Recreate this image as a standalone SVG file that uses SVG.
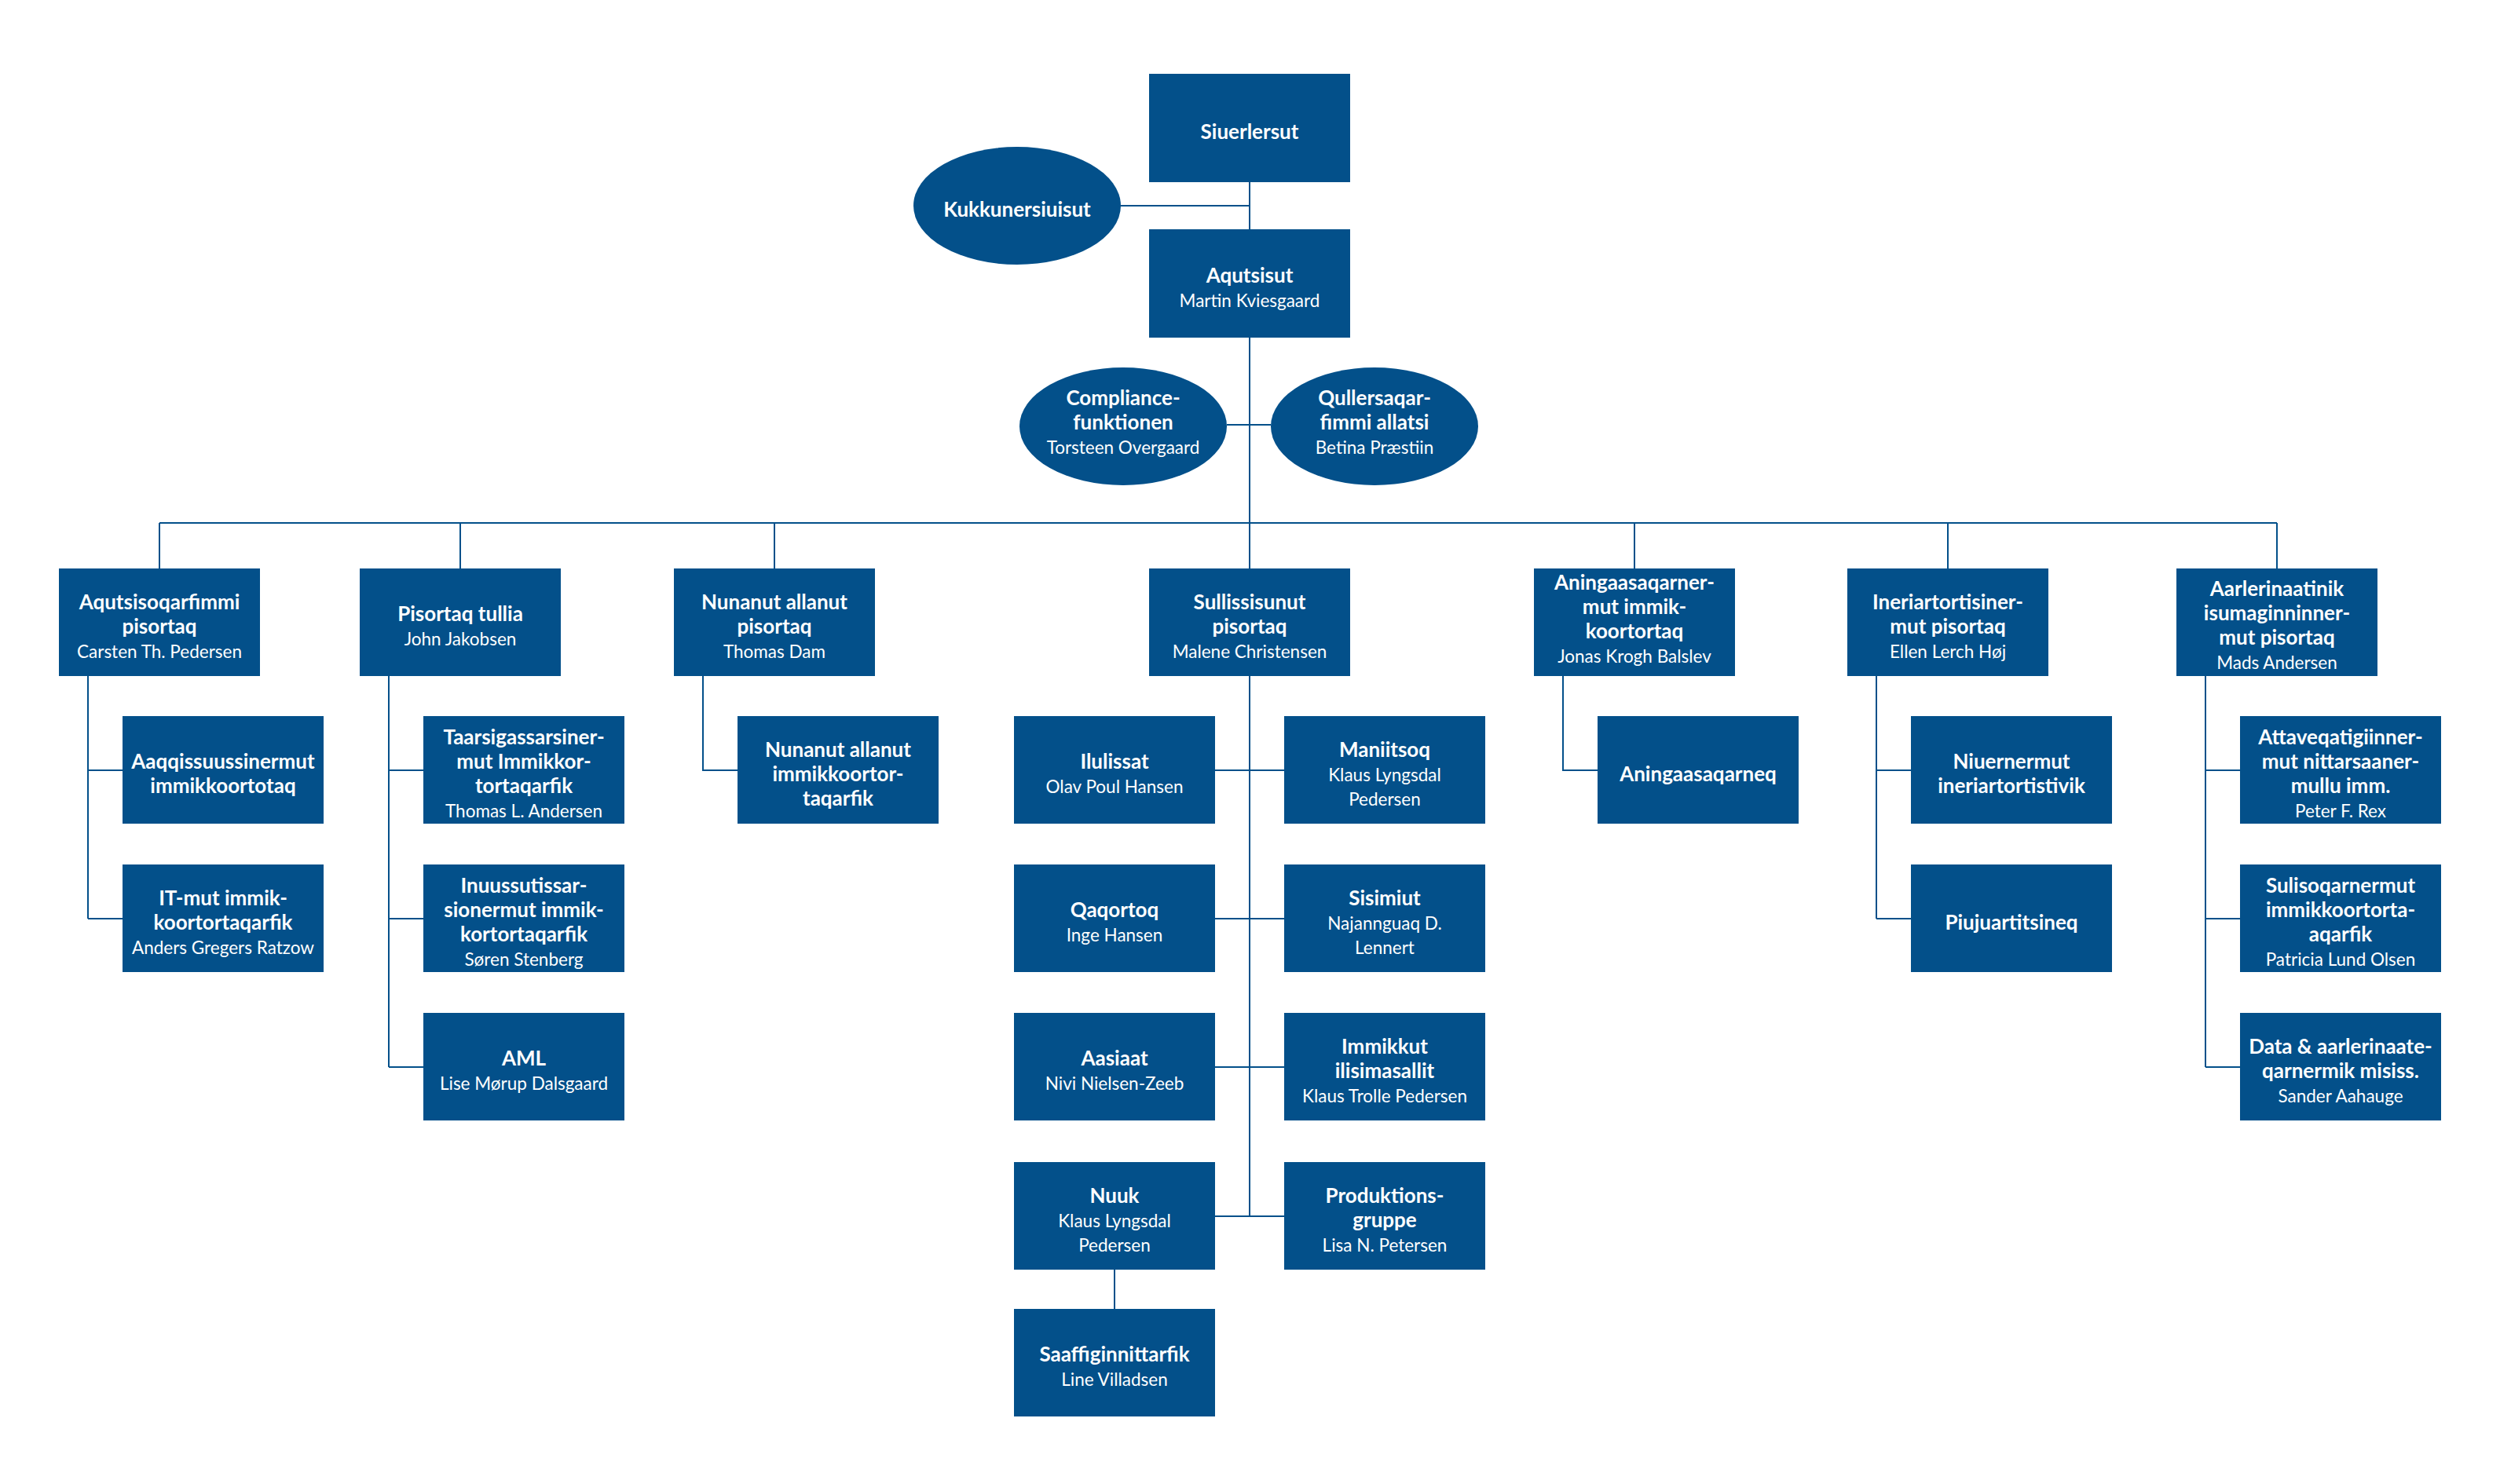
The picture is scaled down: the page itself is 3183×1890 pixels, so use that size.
<svg xmlns="http://www.w3.org/2000/svg" width="3183" height="1890" viewBox="0 0 3183 1890">
<style>
.b{fill:#03508a}
.c{fill:none;stroke:#03508a;stroke-width:2}
text{font-family:Lato,"Liberation Sans",sans-serif;font-size:26px;fill:#ffffff;text-anchor:middle}
.t{font-weight:700;font-size:26px}
.n{font-weight:400;font-size:22.5px}
</style>
<rect width="3183" height="1890" fill="#ffffff"/>
<g id="connectors">
<path class="c" d="M1591,232V292M1427,262H1591M1591,430V724M1562,541H1618M203,666H2899"/>
<path class="c" d="M203,666V724M586,666V724M986,666V724M2081,666V724M2480,666V724M2899,666V724"/>
<path class="c" d="M112,861V1170M112,981H156M112,1170H156"/>
<path class="c" d="M495,861V1359M495,981H539M495,1170H539M495,1359H539"/>
<path class="c" d="M895,861V981H939"/>
<path class="c" d="M1990,861V981H2034"/>
<path class="c" d="M2389,861V1170M2389,981H2433M2389,1170H2433"/>
<path class="c" d="M2808,861V1359M2808,981H2852M2808,1170H2852M2808,1359H2852"/>
<path class="c" d="M1591,861V1549M1547,981H1635M1547,1170H1635M1547,1359H1635M1547,1549H1635M1419,1617V1667"/>
</g>
<g id="siuerlersut"><rect class="b" x="1463" y="94" width="256" height="138"/><text x="1591" y="177" class="t">Siuerlersut</text></g>
<g id="kukkunersiuisut"><ellipse class="b" cx="1295" cy="262" rx="132" ry="75"/><text x="1295" y="276" class="t">Kukkunersiuisut</text></g>
<g id="aqutsisut"><rect class="b" x="1463" y="292" width="256" height="138"/><text x="1591" y="359.5"><tspan class="t">Aqutsisut</tspan><tspan class="n" x="1591" dy="31">Martin Kviesgaard</tspan></text></g>
<g id="compliance"><ellipse class="b" cx="1430" cy="543" rx="132" ry="75"/><text x="1430" y="516"><tspan class="t">Compliance-</tspan><tspan class="t" x="1430" dy="31">funktionen</tspan><tspan class="n" x="1430" dy="31">Torsteen Overgaard</tspan></text></g>
<g id="qullersaqarfimmi"><ellipse class="b" cx="1750" cy="543" rx="132" ry="75"/><text x="1750" y="516"><tspan class="t">Qullersaqar-</tspan><tspan class="t" x="1750" dy="31">fimmi allatsi</tspan><tspan class="n" x="1750" dy="31">Betina Præstiin</tspan></text></g>

<g id="aqutsisoqarfimmi"><rect class="b" x="75" y="724" width="256" height="137"/><text x="203" y="775.5"><tspan class="t">Aqutsisoqarfimmi</tspan><tspan class="t" x="203" dy="31">pisortaq</tspan><tspan class="n" x="203" dy="31">Carsten Th. Pedersen</tspan></text></g>
<g id="aaqqissuussinermut"><rect class="b" x="156" y="912" width="256" height="137"/><text x="284" y="979"><tspan class="t">Aaqqissuussinermut</tspan><tspan class="t" x="284" dy="31">immikkoortotaq</tspan></text></g>
<g id="it-mut"><rect class="b" x="156" y="1101" width="256" height="137"/><text x="284" y="1152.5"><tspan class="t">IT-mut immik-</tspan><tspan class="t" x="284" dy="31">koortortaqarfik</tspan><tspan class="n" x="284" dy="31">Anders Gregers Ratzow</tspan></text></g>

<g id="pisortaq-tullia"><rect class="b" x="458" y="724" width="256" height="137"/><text x="586" y="791"><tspan class="t">Pisortaq tullia</tspan><tspan class="n" x="586" dy="31">John Jakobsen</tspan></text></g>
<g id="taarsigassarsinermut"><rect class="b" x="539" y="912" width="256" height="137"/><text x="667" y="948"><tspan class="t">Taarsigassarsiner-</tspan><tspan class="t" x="667" dy="31">mut Immikkor-</tspan><tspan class="t" x="667" dy="31">tortaqarfik</tspan><tspan class="n" x="667" dy="31">Thomas L. Andersen</tspan></text></g>
<g id="inuussutissarsionermut"><rect class="b" x="539" y="1101" width="256" height="137"/><text x="667" y="1137"><tspan class="t">Inuussutissar-</tspan><tspan class="t" x="667" dy="31">sionermut immik-</tspan><tspan class="t" x="667" dy="31">kortortaqarfik</tspan><tspan class="n" x="667" dy="31">Søren Stenberg</tspan></text></g>
<g id="aml"><rect class="b" x="539" y="1290" width="256" height="137"/><text x="667" y="1357"><tspan class="t">AML</tspan><tspan class="n" x="667" dy="31">Lise Mørup Dalsgaard</tspan></text></g>

<g id="nunanut-allanut-pisortaq"><rect class="b" x="858" y="724" width="256" height="137"/><text x="986" y="775.5"><tspan class="t">Nunanut allanut</tspan><tspan class="t" x="986" dy="31">pisortaq</tspan><tspan class="n" x="986" dy="31">Thomas Dam</tspan></text></g>
<g id="nunanut-allanut-immikkoortortaqarfik"><rect class="b" x="939" y="912" width="256" height="137"/><text x="1067" y="963.5"><tspan class="t">Nunanut allanut</tspan><tspan class="t" x="1067" dy="31">immikkoortor-</tspan><tspan class="t" x="1067" dy="31">taqarfik</tspan></text></g>

<g id="sullissisunut"><rect class="b" x="1463" y="724" width="256" height="137"/><text x="1591" y="775.5"><tspan class="t">Sullissisunut</tspan><tspan class="t" x="1591" dy="31">pisortaq</tspan><tspan class="n" x="1591" dy="31">Malene Christensen</tspan></text></g>
<g id="ilulissat"><rect class="b" x="1291" y="912" width="256" height="137"/><text x="1419" y="979"><tspan class="t">Ilulissat</tspan><tspan class="n" x="1419" dy="31">Olav Poul Hansen</tspan></text></g>
<g id="maniitsoq"><rect class="b" x="1635" y="912" width="256" height="137"/><text x="1763" y="963.5"><tspan class="t">Maniitsoq</tspan><tspan class="n" x="1763" dy="31">Klaus Lyngsdal</tspan><tspan class="n" x="1763" dy="31">Pedersen</tspan></text></g>
<g id="qaqortoq"><rect class="b" x="1291" y="1101" width="256" height="137"/><text x="1419" y="1168"><tspan class="t">Qaqortoq</tspan><tspan class="n" x="1419" dy="31">Inge Hansen</tspan></text></g>
<g id="sisimiut"><rect class="b" x="1635" y="1101" width="256" height="137"/><text x="1763" y="1152.5"><tspan class="t">Sisimiut</tspan><tspan class="n" x="1763" dy="31">Najannguaq D.</tspan><tspan class="n" x="1763" dy="31">Lennert</tspan></text></g>
<g id="aasiaat"><rect class="b" x="1291" y="1290" width="256" height="137"/><text x="1419" y="1357"><tspan class="t">Aasiaat</tspan><tspan class="n" x="1419" dy="31">Nivi Nielsen-Zeeb</tspan></text></g>
<g id="immikkut-ilisimasallit"><rect class="b" x="1635" y="1290" width="256" height="137"/><text x="1763" y="1341.5"><tspan class="t">Immikkut</tspan><tspan class="t" x="1763" dy="31">ilisimasallit</tspan><tspan class="n" x="1763" dy="31">Klaus Trolle Pedersen</tspan></text></g>
<g id="nuuk"><rect class="b" x="1291" y="1480" width="256" height="137"/><text x="1419" y="1531.5"><tspan class="t">Nuuk</tspan><tspan class="n" x="1419" dy="31">Klaus Lyngsdal</tspan><tspan class="n" x="1419" dy="31">Pedersen</tspan></text></g>
<g id="produktionsgruppe"><rect class="b" x="1635" y="1480" width="256" height="137"/><text x="1763" y="1531.5"><tspan class="t">Produktions-</tspan><tspan class="t" x="1763" dy="31">gruppe</tspan><tspan class="n" x="1763" dy="31">Lisa N. Petersen</tspan></text></g>
<g id="saaffiginnittarfik"><rect class="b" x="1291" y="1667" width="256" height="137"/><text x="1419" y="1734"><tspan class="t">Saaffiginnittarfik</tspan><tspan class="n" x="1419" dy="31">Line Villadsen</tspan></text></g>

<g id="aningaasaqarnermut"><rect class="b" x="1953" y="724" width="256" height="137"/><text x="2081" y="751"><tspan class="t">Aningaasaqarner-</tspan><tspan class="t" x="2081" dy="31">mut immik-</tspan><tspan class="t" x="2081" dy="31">koortortaq</tspan><tspan class="n" x="2081" dy="31">Jonas Krogh Balslev</tspan></text></g>
<g id="aningaasaqarneq"><rect class="b" x="2034" y="912" width="256" height="137"/><text x="2162" y="994.5" class="t">Aningaasaqarneq</text></g>

<g id="ineriartortisinermut"><rect class="b" x="2352" y="724" width="256" height="137"/><text x="2480" y="775.5"><tspan class="t">Ineriartortisiner-</tspan><tspan class="t" x="2480" dy="31">mut pisortaq</tspan><tspan class="n" x="2480" dy="31">Ellen Lerch Høj</tspan></text></g>
<g id="niuernermut"><rect class="b" x="2433" y="912" width="256" height="137"/><text x="2561" y="979"><tspan class="t">Niuernermut</tspan><tspan class="t" x="2561" dy="31">ineriartortistivik</tspan></text></g>
<g id="piujuartitsineq"><rect class="b" x="2433" y="1101" width="256" height="137"/><text x="2561" y="1183.5" class="t">Piujuartitsineq</text></g>

<g id="aarlerinaatinik"><rect class="b" x="2771" y="724" width="256" height="137"/><text x="2899" y="759"><tspan class="t">Aarlerinaatinik</tspan><tspan class="t" x="2899" dy="31">isumaginninner-</tspan><tspan class="t" x="2899" dy="31">mut pisortaq</tspan><tspan class="n" x="2899" dy="31">Mads Andersen</tspan></text></g>
<g id="attaveqatigiinnermut"><rect class="b" x="2852" y="912" width="256" height="137"/><text x="2980" y="948"><tspan class="t">Attaveqatigiinner-</tspan><tspan class="t" x="2980" dy="31">mut nittarsaaner-</tspan><tspan class="t" x="2980" dy="31">mullu imm.</tspan><tspan class="n" x="2980" dy="31">Peter F. Rex</tspan></text></g>
<g id="sulisoqarnermut"><rect class="b" x="2852" y="1101" width="256" height="137"/><text x="2980" y="1137"><tspan class="t">Sulisoqarnermut</tspan><tspan class="t" x="2980" dy="31">immikkoortorta-</tspan><tspan class="t" x="2980" dy="31">aqarfik</tspan><tspan class="n" x="2980" dy="31">Patricia Lund Olsen</tspan></text></g>
<g id="data-aarlerinaateqarnermik"><rect class="b" x="2852" y="1290" width="256" height="137"/><text x="2980" y="1341.5"><tspan class="t">Data &amp; aarlerinaate-</tspan><tspan class="t" x="2980" dy="31">qarnermik misiss.</tspan><tspan class="n" x="2980" dy="31">Sander Aahauge</tspan></text></g>
</svg>
